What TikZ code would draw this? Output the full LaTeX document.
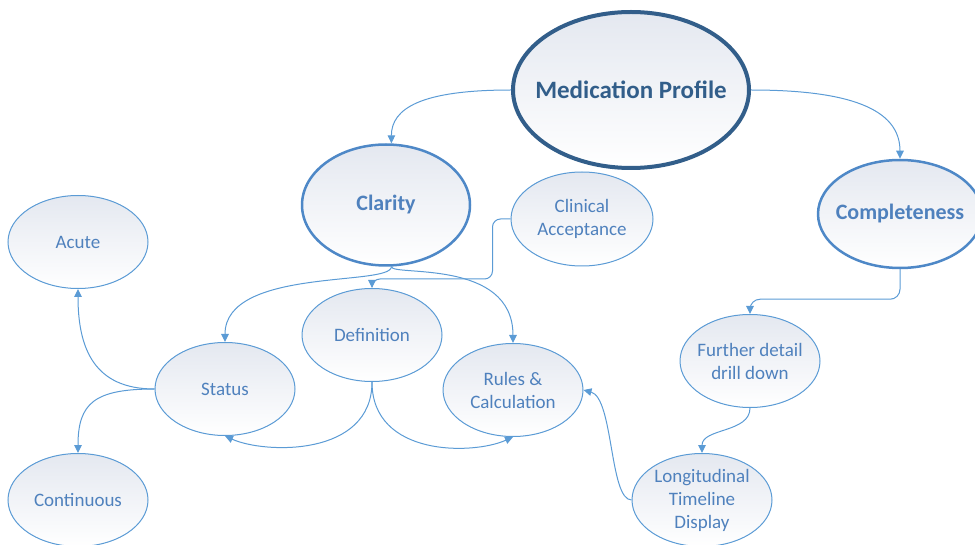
\documentclass[tikz,border=0pt]{standalone}
\usepackage{fontspec}
\setmainfont{Carlito}
\usetikzlibrary{shapes.geometric,arrows.meta}
\definecolor{linkblue}{HTML}{5B9BD5}
\definecolor{ringblue}{HTML}{4E88C7}
\definecolor{deepblue}{HTML}{325E8A}
\definecolor{textblue}{HTML}{4F81BD}
\definecolor{shadetop}{HTML}{E4E8F0}
\tikzset{
  topic/.style={ellipse, draw=linkblue, line width=1pt, top color=shadetop, bottom color=white,
    text=textblue, font=\fontsize{19}{23}\selectfont, align=center, inner sep=0pt,
    minimum width=140pt, minimum height=93pt},
  theme/.style={topic, draw=ringblue, line width=2.5pt, font=\fontsize{22}{26}\selectfont\bfseries},
  root/.style={topic, draw=deepblue, line width=4pt, text=deepblue, inner xsep=-13pt,
    font=\fontsize{25}{30}\selectfont\bfseries, minimum width=236pt, minimum height=156pt},
  link/.style={draw=linkblue, line width=1pt, -{Triangle[length=8pt,width=7.5pt]}}
}
\begin{document}
\begin{tikzpicture}[x=1pt,y=-1pt]
  \useasboundingbox (0,0) rectangle (975,545);
  \node[root] (P) at (631,90) {Medication Profile};
  \node[theme, minimum width=168pt, minimum height=121pt] (C) at (386,205) {Clarity};
  \node[topic, minimum width=142pt, minimum height=94pt] (K) at (582,219) {Clinical\\Acceptance};
  \node[theme, inner xsep=-7pt, minimum width=164pt, minimum height=108pt] (M) at (900,214) {Completeness};
  \node[topic] (A) at (78,242) {Acute};
  \node[topic] (S) at (225,389) {Status};
  \node[topic] (D) at (372,335) {Definition};
  \node[topic] (R) at (513,390) {Rules \&\\Calculation};
  \node[topic] (N) at (78,500) {Continuous};
  \node[topic, inner xsep=-4pt] (F) at (750,361) {Further detail\\drill down};
  \node[topic, inner ysep=-2pt] (L) at (702,500) {Longitudinal\\Timeline\\Display};
  \draw[link] (P.west) .. controls +(-90,0) and +(0,-35) .. (C.85);
  \draw[link] (P.east) .. controls +(110,0) and +(0,-45) .. (M.north);
  \draw[link] (C.-85) .. controls +(0,20) and +(0,-75) .. (S.north);
  \draw[link] (C.-85) .. controls +(0,10) and +(0,-85) .. (R.north);
  \draw[link, rounded corners=8pt] (K.west) -- ++(-18,0) -- ++(0,60) -| (D.north);
  \draw[link] (D.south) .. controls +(0,75) and +(40,18) .. (S.south);
  \draw[link] (D.south) .. controls +(0,75) and +(-40,18) .. (R.south);
  \draw[link] (S.west) .. controls +(-60,0) and +(0,60) .. (A.south);
  \draw[link] (S.west) .. controls +(-60,0) and +(0,-50) .. (N.north);
  \draw[link, rounded corners=10pt] (M.south) -- ++(0,30) -| (F.north);
  \draw[link] (F.south) .. controls +(0,25) and +(0,-25) .. (L.north);
  \draw[link] (L.west) .. controls +(-22,0) and +(30,8) .. (R.east);
\end{tikzpicture}
\end{document}
